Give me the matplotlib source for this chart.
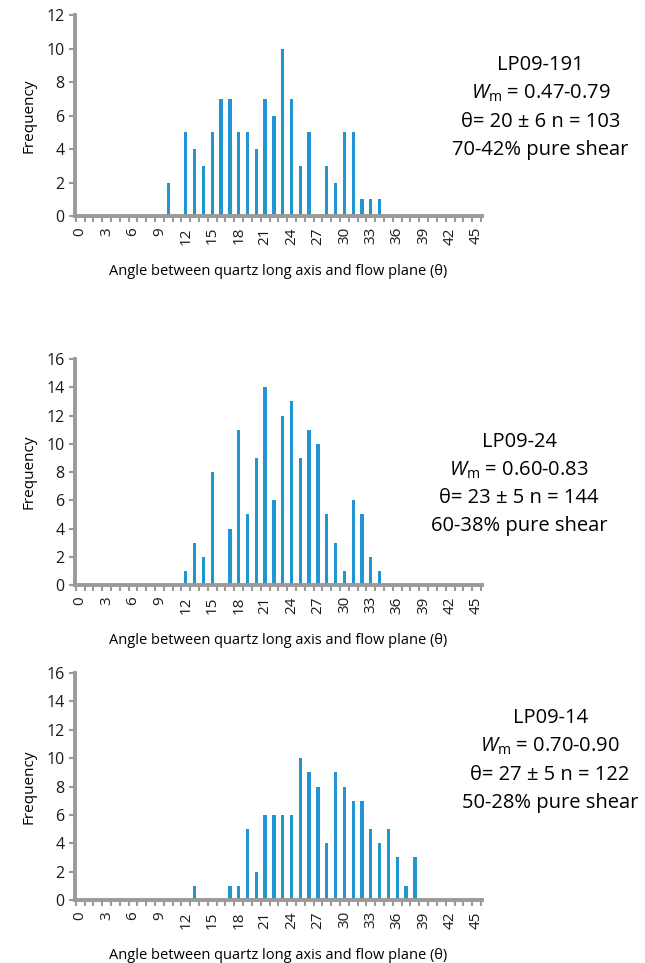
import matplotlib
matplotlib.use("Agg")
import matplotlib.pyplot as plt
import numpy as np

plt.rcParams['font.family'] = ['Open Sans', 'DejaVu Sans']
plt.rcParams['mathtext.fontset'] = 'custom'
plt.rcParams['mathtext.rm'] = 'Open Sans'
plt.rcParams['mathtext.it'] = 'Open Sans:italic'

# angle categories (degrees)
angles = list(range(46))

# frequencies per 1 degree bin
freq_191 = [0, 0, 0, 0, 0, 0, 0, 0, 0, 0,
            2, 0, 5, 4, 3, 5, 7, 7, 5, 5,
            4, 7, 6, 10, 7, 3, 5, 0, 3, 2,
            5, 5, 1, 1, 1, 0, 0, 0, 0, 0,
            0, 0, 0, 0, 0, 0]
freq_24 = [0, 0, 0, 0, 0, 0, 0, 0, 0, 0,
           0, 0, 1, 3, 2, 8, 0, 4, 11, 5,
           9, 14, 6, 12, 13, 9, 11, 10, 5, 3,
           1, 6, 5, 2, 1, 0, 0, 0, 0, 0,
           0, 0, 0, 0, 0, 0]
freq_14 = [0, 0, 0, 0, 0, 0, 0, 0, 0, 0,
           0, 0, 0, 1, 0, 0, 0, 1, 1, 5,
           2, 6, 6, 6, 6, 10, 9, 8, 4, 9,
           8, 7, 7, 5, 4, 5, 3, 1, 3, 0,
           0, 0, 0, 0, 0, 0]

samples = ["LP09-191", "LP09-24", "LP09-14"]
wm_ranges = ["0.47-0.79", "0.60-0.83", "0.70-0.90"]
theta_stats = ["20 \u00b1 6 n = 103", "23 \u00b1 5 n = 144", "27 \u00b1 5 n = 122"]
pure_shear = ["70-42%", "60-38%", "50-28%"]
ymax = [12, 16, 16]

blue = "#2196d3"
grey = "#9a9a9a"

fig = plt.figure(figsize=(6.45, 9.63), dpi=100)

# [left, bottom, width, height] for each panel, plus text centre (x, top line y)
boxes = [[0.116, 0.7757, 0.631, 0.2087],
         [0.116, 0.3925, 0.631, 0.2347],
         [0.116, 0.0654, 0.631, 0.2357]]
text_pos = [(0.838, 0.932), (0.805, 0.541), (0.853, 0.254)]

for i, freq in enumerate([freq_191, freq_24, freq_14]):
    ax = fig.add_axes(boxes[i])
    ax.bar(angles, freq, width=0.38, color=blue)
    ax.set_xlim(-0.6, 45.6)
    ax.set_ylim(0, ymax[i])
    ax.set_yticks(np.arange(0, ymax[i] + 1, 2))
    ax.set_xticks(range(0, 46, 3))
    ax.set_xticks(np.arange(-0.5, 46, 1), minor=True)
    ax.tick_params(axis='x', which='major', length=0, labelrotation=90,
                   labelsize=11, pad=8, colors='#1a1a1a')
    ax.tick_params(axis='x', which='minor', length=4, width=1.5, color=grey)
    ax.tick_params(axis='y', length=4, width=1.5, color=grey,
                   labelsize=11.5, labelcolor='#1a1a1a')
    for s in ['top', 'right']:
        ax.spines[s].set_visible(False)
    for s in ['left', 'bottom']:
        ax.spines[s].set_color(grey)
        ax.spines[s].set_linewidth(2.8)
    ax.set_ylabel("Frequency", fontsize=11, labelpad=7)
    ax.set_xlabel("Angle between quartz long axis and flow plane (\u03b8)",
                  fontsize=10.5, labelpad=14)

    tx, ty = text_pos[i]
    step = 0.0292
    fig.text(tx, ty, samples[i], ha='center', va='center', fontsize=14.5)
    fig.text(tx, ty - step, r"$W_{\rm m}$ = " + wm_ranges[i], ha='center',
             va='center', fontsize=14.5)
    fig.text(tx, ty - 2 * step, "\u03b8= " + theta_stats[i], ha='center',
             va='center', fontsize=14.5)
    fig.text(tx, ty - 3 * step, pure_shear[i] + " pure shear", ha='center',
             va='center', fontsize=14.5)

fig.savefig("out.png", dpi=100)
